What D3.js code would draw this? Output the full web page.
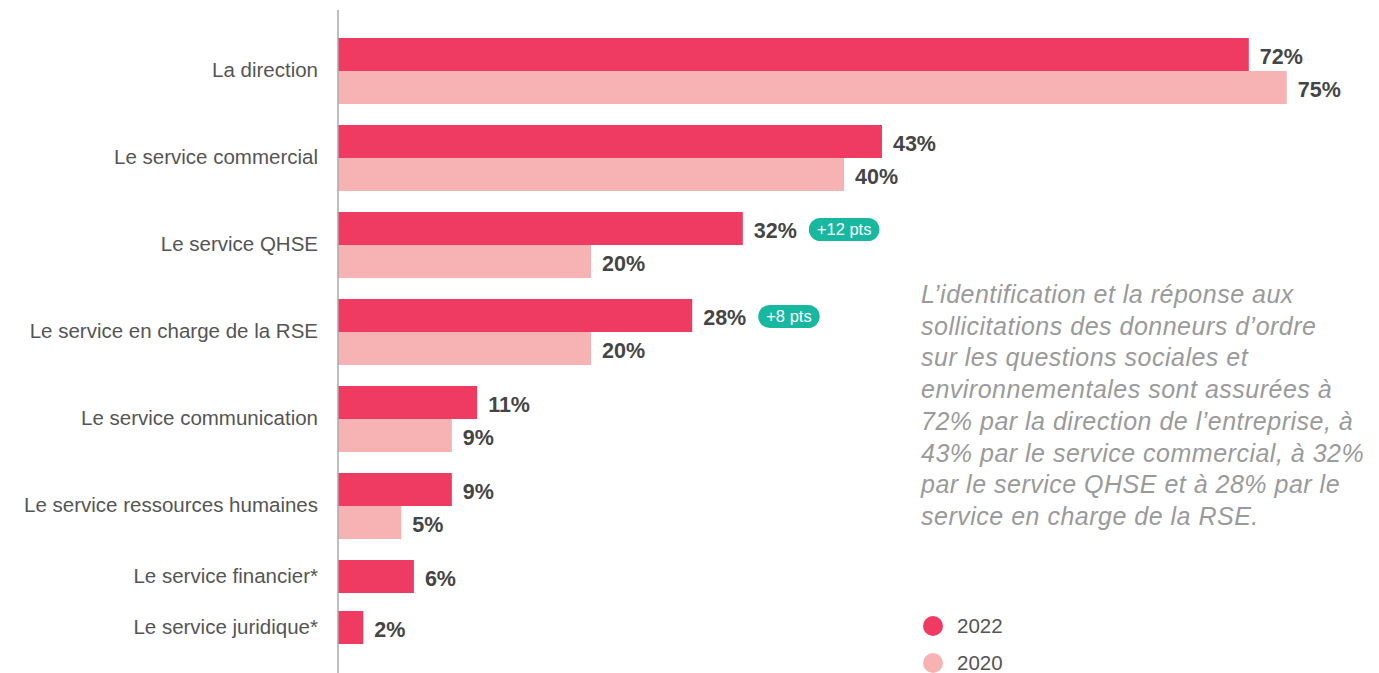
<!DOCTYPE html>
<html>
<head>
<meta charset="utf-8">
<script src="https://cdn.jsdelivr.net/npm/d3@7"></script>
<style>
  html, body { margin: 0; padding: 0; background: #fff; }
  svg { display: block; font-family: "Liberation Sans", Arial, Helvetica, sans-serif; }
</style>
</head>
<body>
<svg id="chart" width="1379" height="673"></svg>
<script>
// Services in charge of handling requests from contractors (% of companies)
const categories = [
  "La direction",
  "Le service commercial",
  "Le service QHSE",
  "Le service en charge de la RSE",
  "Le service communication",
  "Le service ressources humaines",
  "Le service financier*",
  "Le service juridique*"
];
const values2022 = [72, 43, 32, 28, 11, 9, 6, 2];
const values2020 = [75, 40, 20, 20, 9, 5, null, null];
const badges = [null, null, "+12 pts", "+8 pts", null, null, null, null];
const seriesNames = ["2022", "2020"];
const noteLines = [
  "L\u2019identification et la réponse aux",
  "sollicitations des donneurs d\u2019ordre",
  "sur les questions sociales et",
  "environnementales sont assurées à",
  "72% par la direction de l\u2019entreprise, à",
  "43% par le service commercial, à 32%",
  "par le service QHSE et à 28% par le",
  "service en charge de la RSE."
];

const colors = { "2022": "#ef3a62", "2020": "#f7b3b3" };
const badgeColor = "#18b8a0";

const svg = d3.select("#chart");

// horizontal value scale
const x = d3.scaleLinear().domain([0, 100]).range([338, 1603]);

// vertical layout: each row stacks its available series, rows separated by a gap
const barH = 33;
const gaps = [21, 21, 21, 21, 21, 21, 18];
const rows = categories.map((c, i) => {
  const bars = [];
  if (values2022[i] != null) bars.push({ series: "2022", value: values2022[i] });
  if (values2020[i] != null) bars.push({ series: "2020", value: values2020[i] });
  return { category: c, bars, badge: badges[i] };
});
let cursor = 0;
rows.forEach((r, i) => {
  r.offset = cursor;
  r.size = r.bars.length * barH;
  cursor += r.size + (gaps[i] || 0);
});
const y = d3.scaleLinear().domain([0, cursor]).range([38, 38 + cursor]);

// bars
const rowG = svg.selectAll("g.row").data(rows).join("g").attr("class", "row");

rowG.selectAll("rect")
  .data(r => r.bars.map((b, j) => ({ ...b, top: r.offset + j * barH })))
  .join("rect")
  .attr("x", x(0))
  .attr("y", d => y(d.top))
  .attr("width", d => x(d.value) - x(0))
  .attr("height", barH)
  .attr("fill", d => colors[d.series]);

// value labels
rowG.selectAll("text.val")
  .data(r => r.bars.map((b, j) => ({ ...b, top: r.offset + j * barH })))
  .join("text")
  .attr("class", "val")
  .attr("x", d => x(d.value) + 11)
  .attr("y", d => y(d.top + barH / 2) + 2)
  .attr("dy", "0.35em")
  .attr("font-size", 21.5)
  .attr("font-weight", "bold")
  .attr("fill", "#454545")
  .text(d => d.value + "%");

// change badges next to the 2022 label
rowG.filter(r => r.badge).each(function (r) {
  const g = d3.select(this);
  const lbl = g.select("text.val").node();
  const bb = lbl.getBBox();
  const cy = y(r.offset + barH / 2) + 1;
  const bx = bb.x + bb.width + 12;
  const t = g.append("text")
    .attr("x", 0).attr("y", cy)
    .attr("dy", "0.35em")
    .attr("font-size", 16.5)
    .attr("fill", "#fff")
    .attr("text-anchor", "middle")
    .text(r.badge);
  const tw = t.node().getComputedTextLength();
  const w = tw + 16, h = 23;
  g.insert("rect", function () { return t.node(); })
    .attr("x", bx).attr("y", cy - h / 2)
    .attr("width", w).attr("height", h)
    .attr("rx", h / 2).attr("ry", h / 2)
    .attr("fill", badgeColor);
  t.attr("x", bx + w / 2);
});

// category labels
svg.selectAll("text.cat").data(rows).join("text")
  .attr("class", "cat")
  .attr("x", 318)
  .attr("y", r => y(r.offset + r.size / 2) - 1)
  .attr("dy", "0.35em")
  .attr("text-anchor", "end")
  .attr("font-size", 20.5)
  .attr("fill", "#555")
  .text(r => r.category);

// vertical axis line
svg.append("line")
  .attr("x1", x(0)).attr("x2", x(0))
  .attr("y1", 10).attr("y2", 673)
  .attr("stroke", "#aaa")
  .attr("stroke-width", 1.5);

// commentary block
svg.append("text")
  .attr("font-size", 25)
  .attr("font-style", "italic")
  .attr("letter-spacing", 0.5)
  .attr("fill", "#9a9a9a")
  .selectAll("tspan").data(noteLines).join("tspan")
  .attr("x", 921)
  .attr("y", (d, i) => 303 + i * 31.7)
  .text(d => d);

// legend
const legend = svg.selectAll("g.legend").data(seriesNames).join("g")
  .attr("class", "legend")
  .attr("transform", (d, i) => `translate(933, ${626 + i * 37})`);
legend.append("circle").attr("r", 10).attr("fill", d => colors[d]);
legend.append("text")
  .attr("x", 24).attr("dy", "0.35em")
  .attr("font-size", 20.5)
  .attr("fill", "#555")
  .text(d => d);
</script>
</body>
</html>
